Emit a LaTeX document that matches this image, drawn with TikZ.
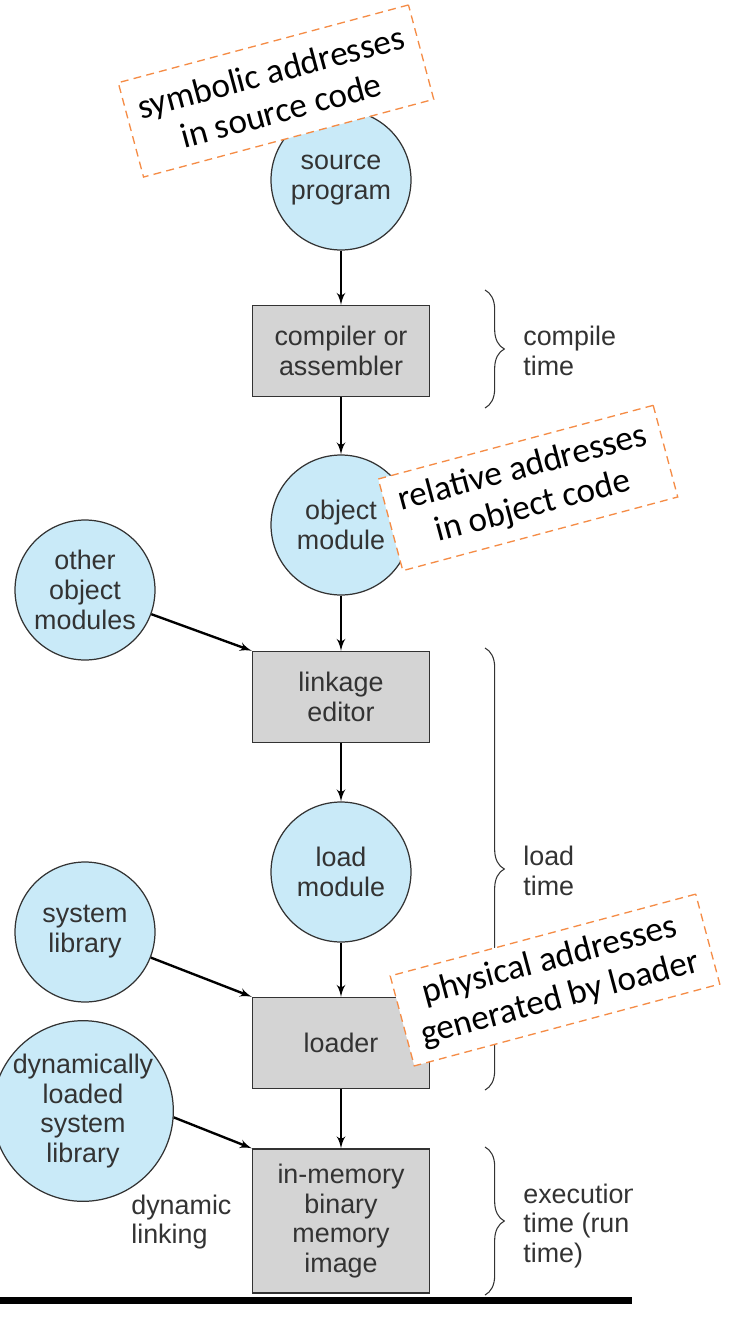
\documentclass[tikz,border=0pt]{standalone}
\usepackage{fontspec}
\setmainfont{Liberation Sans}
\newfontfamily\notefont{Carlito}
\usepackage{tikz}
\usetikzlibrary{shapes,arrows,positioning,calc,decorations.pathreplacing}
\definecolor{modblue}{RGB}{201,234,248}
\definecolor{stepgray}{RGB}{212,212,212}
\definecolor{inkgray}{RGB}{51,51,51}
\definecolor{noteorange}{RGB}{245,140,70}

\begin{document}
\begin{tikzpicture}[auto, x=0.02cm, y=-0.02cm, >=latex']
\tikzset{
module/.style    = {draw=inkgray, line width=0.7pt, shape=circle, fill=modblue, text=inkgray, minimum size=2.8cm, inner sep=0pt, align=center, font=\fontsize{15.3}{17}\selectfont},
block/.style     = {draw=inkgray, line width=0.8pt, shape=rectangle, fill=stepgray, text=inkgray, minimum width=3.54cm, minimum height=1.82cm, align=center, font=\fontsize{15.3}{17}\selectfont},
phase/.style     = {anchor=west, align=left, inner sep=0pt, text=inkgray, font=\fontsize{15.3}{17}\selectfont},
addrnote/.style  = {draw=noteorange, dash pattern=on 4.5pt off 3pt, line width=0.75pt, fill=white, rotate=15, align=center, font=\notefont\fontsize{20}{22.5}\selectfont},
link/.style      = {->, line width=1.35pt},
timebrace/.style = {draw=inkgray, line width=0.6pt, decorate, decoration={brace, amplitude=11pt}},
}
    \useasboundingbox (0,0) rectangle (728,1318);

    % Main chain nodes
    \node [module]                          (source)   at (341,180)  {source\\program};
    \node [block]                           (compiler) at (341,351)  {compiler or\\assembler};
    \node [module]                          (objmod)   at (341,525)  {object\\module};
    \node [block]                           (linkage)  at (341,697)  {linkage\\editor};
    \node [module]                          (loadmod)  at (341,872)  {load\\module};
    \node [block]                           (loader)   at (341,1043) {loader};
    \node [block, minimum height=2.88cm]    (memimage) at (341,1221) {in-memory\\binary\\memory\\image};

    % Side inputs
    \node [module]                          (othermod) at (85,590)   {other\\object\\modules};
    \node [module]                          (syslib)   at (85,932)   {system\\library};
    \node [module, minimum size=3.36cm]     (dynlib)   at (83,1111)  {dynamically\\loaded\\system\\library};
    \node [phase]                           (dynlink)  at (131,1222) {dynamic\\linking};

    % Main chain edges
    \draw [link] (source) -- (compiler);
    \draw [link] (compiler) -- (objmod);
    \draw [link] (objmod) -- (linkage);
    \draw [link] (linkage) -- (loadmod);
    \draw [link] (loadmod) -- (loader);
    \draw [link] (loader) -- (memimage);

    % Side edges
    \draw [link] (othermod) -- (linkage.north west);
    \draw [link] (syslib) -- (loader.north west);
    \draw [link] (dynlib.-4) -- (memimage.north west);

    % Binding times
    \coordinate (compiletop) at (485,290);
    \coordinate (compilebot) at (485,408);
    \coordinate (loadtop)    at (485,648);
    \coordinate (loadbot)    at (485,1090);
    \coordinate (exectop)    at (485,1147);
    \coordinate (execbot)    at (485,1295);
    \draw [timebrace] (compiletop) -- (compilebot);
    \draw [timebrace] (loadtop) -- (loadbot);
    \draw [timebrace] (exectop) -- (execbot);
    \node [phase] (compiletime) at (523,351)  {compile\\time};
    \node [phase] (loadtime)    at (523,871)  {load\\time};
    \begin{scope}
        \clip (0,0) rectangle (632,1318);
        \node [phase] (exectime) at (523,1226) {execution\\time (run\\time)};
    \end{scope}
    \fill [black] (0,1297) rectangle (632,1304);

    % Address notes
    \node [addrnote, minimum width=171pt, minimum height=55.6pt] (symnote) at (276,91)  {symbolic addresses\\in source code};
    \node [addrnote, minimum width=162pt, minimum height=54pt]   (relnote) at (528,488) {relative addresses\\in object code};
    \node [addrnote, minimum width=180pt, minimum height=53pt]   (physnote) at (555,980) {physical addresses\\generated by loader};

\end{tikzpicture}
\end{document}
